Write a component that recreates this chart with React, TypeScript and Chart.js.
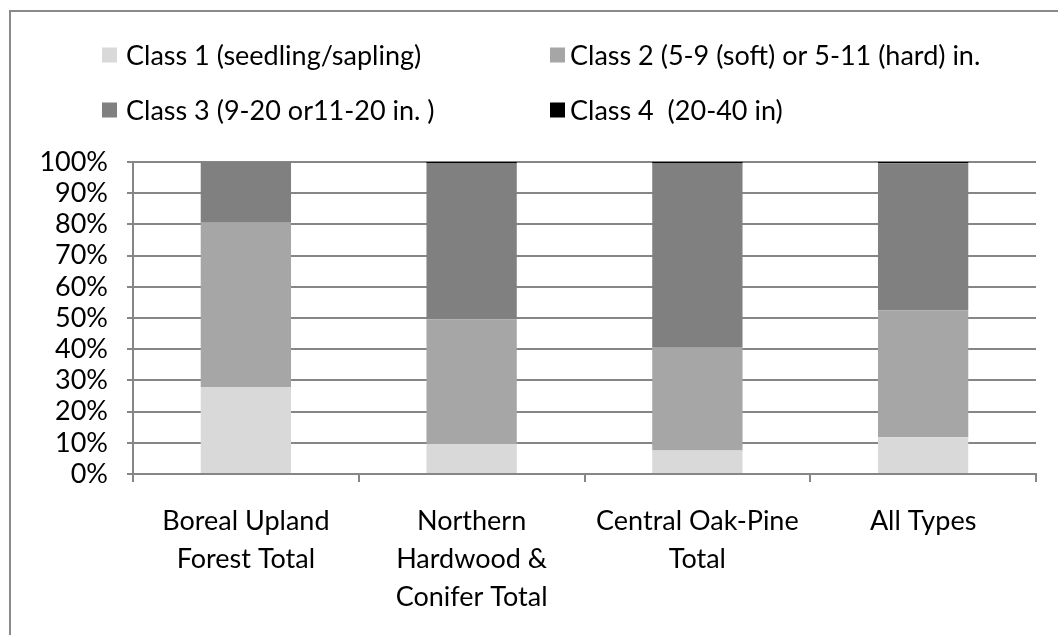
import React, { useEffect, useRef } from "react";
import { Chart, registerables } from "chart.js";

Chart.register(...registerables);

const categories: (string | string[])[] = [
  ["Boreal Upland", "Forest Total"],
  ["Northern", "Hardwood &", "Conifer Total"],
  ["Central Oak-Pine", "Total"],
  "All Types",
];

const seriesNames = [
  "Class 1 (seedling/sapling)",
  "Class 2 (5-9 (soft) or 5-11 (hard) in.",
  "Class 3 (9-20 or11-20 in. )",
  "Class 4  (20-40 in)",
];

const class1 = [27.9, 9.6, 7.5, 11.8];
const class2 = [52.6, 40.0, 33.0, 40.7];
const class3 = [19.5, 49.9, 59.0, 47.1];
const class4 = [0, 0.5, 0.5, 0.5];

const seriesColors = ["#D9D9D9", "#A6A6A6", "#808080", "#000000"];

const yTicks = [0, 10, 20, 30, 40, 50, 60, 70, 80, 90, 100];

const FONT = "Lato, 'Open Sans', sans-serif";
const GRID = "#868686";

const legendPlugin = {
  id: "customLegend",
  afterDraw(chart: any) {
    const ctx = chart.ctx;
    const colX = [102, 550];
    const rowY = [55, 110];
    const box = 15;
    ctx.save();
    ctx.font = `27px ${FONT}`;
    ctx.textBaseline = "middle";
    ctx.textAlign = "left";
    chart.data.datasets.forEach((ds: any, i: number) => {
      const x = colX[i % 2];
      const y = rowY[Math.floor(i / 2)];
      ctx.fillStyle = ds.backgroundColor;
      ctx.fillRect(x, y - box / 2, box, box);
      ctx.fillStyle = "#000";
      ctx.fillText(ds.label, x + (i % 2 === 0 ? 24 : 20), y + 1);
    });
    ctx.restore();
  },
};

export default function App() {
  const ref = useRef<HTMLCanvasElement>(null);

  useEffect(() => {
    document.body.style.overflow = "hidden";
    const values = [class1, class2, class3, class4];
    const chart = new Chart(ref.current!, {
      type: "bar",
      data: {
        labels: categories,
        datasets: values.map((v, i) => ({
          label: seriesNames[i],
          data: v,
          backgroundColor: seriesColors[i],
          borderWidth: 0,
          barPercentage: 0.4,
          categoryPercentage: 1,
        })),
      },
      options: {
        responsive: false,
        animation: false,
        events: [],
        layout: { padding: { top: 162, right: 22, left: 0, bottom: 0 } },
        plugins: {
          legend: { display: false },
          tooltip: { enabled: false },
        },
        scales: {
          x: {
            stacked: true,
            offset: true,
            grid: {
              offset: true,
              drawOnChartArea: false,
              drawTicks: true,
              tickLength: 8,
              color: GRID,
              lineWidth: 2,
            },
            border: { display: true, color: GRID, width: 2 },
            ticks: {
              color: "#000",
              padding: 21,
              font: { family: FONT, size: 27, lineHeight: 1.39 },
              maxRotation: 0,
              autoSkip: false,
            },
            afterFit(scale: any) {
              scale.height = 161;
            },
          },
          y: {
            stacked: true,
            min: 0,
            max: 100,
            afterBuildTicks(scale: any) {
              scale.ticks = yTicks.map((v) => ({ value: v }));
            },
            grid: {
              drawTicks: true,
              tickLength: 6,
              color: GRID,
              lineWidth: 2,
            },
            border: { display: true, color: GRID, width: 2 },
            ticks: {
              color: "#000",
              padding: 19,
              autoSkip: false,
              font: { family: FONT, size: 27 },
              callback: (v: any) => `${v}%`,
            },
            afterFit(scale: any) {
              scale.width = 133;
            },
          },
        },
      },
      plugins: [legendPlugin],
    });
    return () => chart.destroy();
  }, []);

  return (
    <div
      style={{
        position: "fixed",
        left: 0,
        top: 0,
        width: 1058,
        height: 635,
        background: "#fff",
        overflow: "hidden",
      }}
    >
      <div
        style={{
          position: "absolute",
          left: 9,
          top: 10,
          width: 1100,
          height: 700,
          borderLeft: "2px solid #8a8a8a",
          borderTop: "2px solid #8a8a8a",
        }}
      />
      <canvas
        ref={ref}
        width={1058}
        height={635}
        style={{ position: "absolute", left: 0, top: 0, width: 1058, height: 635 }}
      />
    </div>
  );
}
